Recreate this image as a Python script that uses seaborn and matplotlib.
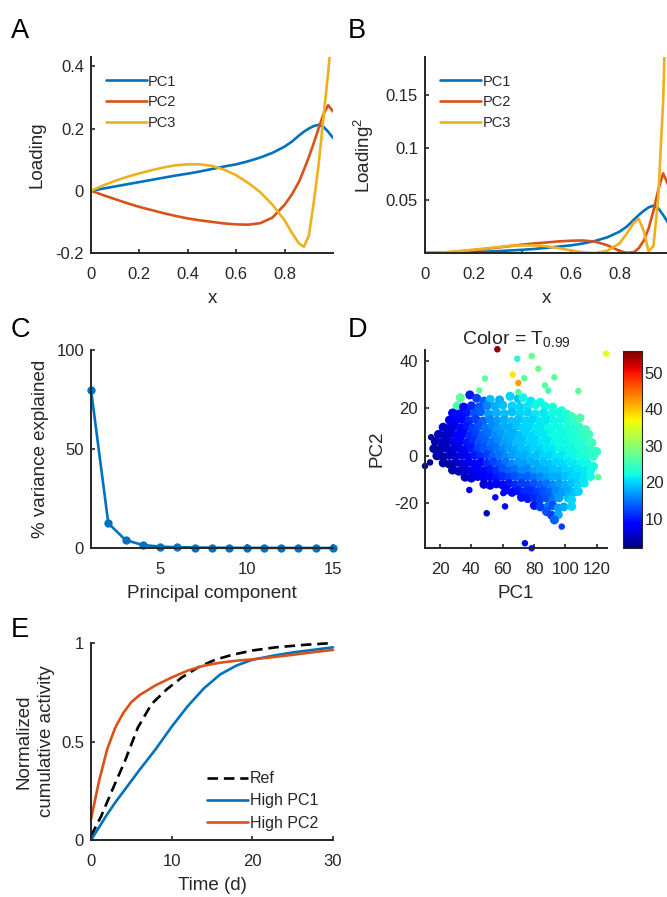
import numpy as np
import pandas as pd
import matplotlib
matplotlib.use("Agg")
import matplotlib.pyplot as plt
import seaborn as sns
from matplotlib.colors import Normalize
from matplotlib.cm import ScalarMappable

# ---------------- data ----------------
xpos = [0, 0.05, 0.1, 0.15, 0.2, 0.25, 0.3, 0.35, 0.4, 0.45, 0.5, 0.55, 0.6, 0.65,
        0.7, 0.75, 0.8, 0.83, 0.86, 0.88, 0.9, 0.92, 0.94, 0.96, 0.98, 1.0]
pc1_load = [0, 0.007, 0.014, 0.021, 0.028, 0.035, 0.042, 0.049, 0.055, 0.062, 0.07, 0.078,
            0.085, 0.095, 0.107, 0.122, 0.142, 0.158, 0.178, 0.19, 0.2, 0.208, 0.212, 0.206,
            0.19, 0.17]
pc2_load = [0, -0.014, -0.027, -0.04, -0.052, -0.062, -0.072, -0.081, -0.089, -0.095, -0.1,
            -0.105, -0.108, -0.109, -0.104, -0.086, -0.045, -0.012, 0.03, 0.068, 0.108, 0.152,
            0.2, 0.245, 0.275, 0.255]
pc3_load = [0, 0.017, 0.032, 0.045, 0.056, 0.066, 0.075, 0.082, 0.085, 0.085, 0.08, 0.068,
            0.05, 0.025, -0.005, -0.045, -0.095, -0.135, -0.17, -0.18, -0.145, -0.04, 0.08,
            0.23, 0.38, 0.55]

pc_index = list(range(1, 16))
var_explained = [80, 12.5, 4, 1.5, 0.7, 0.4, 0.25, 0.15, 0.1, 0.08, 0.06, 0.05, 0.04, 0.03, 0.02]

# Panel D: (PC1, PC2, T0.99) -- dense cloud
cloud_pts = [
    (33, 24.4, 27), (39, 25.6, 10), (43.4, 24.2, 12), (48, 23, 14), (52, 23.7, 19), (58, 23.5, 18),
    (64.7, 25, 20), (70, 24, 19), (73, 24.4, 22), (78, 23, 21), (84, 22.5, 22),
    (31, 21, 26), (35, 20.5, 9), (40, 21, 11), (45, 20.5, 13), (50, 21, 16), (55, 20.8, 18),
    (60, 21.3, 19), (66, 21, 20), (71, 20.5, 20), (76, 21, 21), (81, 21.5, 22), (87, 20.8, 22),
    (92, 20.5, 23), (97.7, 19, 24),
    (28, 18, 8), (32, 17.5, 9), (37, 18.2, 10), (42, 17.8, 13), (46, 18.5, 14), (51, 17.6, 17),
    (56, 18.2, 18), (61, 17.7, 19), (66, 18.4, 19), (71, 17.8, 20), (76, 18.3, 20), (81, 17.6, 21),
    (86, 18, 21), (91, 17.5, 22), (96, 18.2, 22), (101, 17.5, 23), (104, 16.5, 25),
    (26, 15, 7), (29.5, 14.5, 8), (34, 15.3, 9), (38.5, 14.7, 11), (43, 15.2, 12), (47.5, 14.6, 14),
    (52, 15.3, 16), (56.5, 14.8, 17), (61, 15.2, 18), (65.5, 14.5, 19), (70, 15.3, 19),
    (74.5, 14.7, 20), (79, 15.2, 20), (83.5, 14.6, 21), (88, 15.1, 21), (92.5, 14.8, 22),
    (97, 15.3, 22), (101.5, 14.5, 23), (106, 15, 24), (109.3, 15.9, 26),
    (22, 12, 6), (25.5, 11.5, 6), (29, 12.3, 7), (33, 11.7, 9), (37, 12.2, 10), (41, 11.6, 12),
    (45, 12.4, 13), (49, 11.8, 15), (53, 12.3, 16), (57, 11.6, 17), (61, 12.2, 18), (65, 11.7, 18),
    (69, 12.4, 19), (73, 11.8, 20), (77, 12.3, 20), (81, 11.6, 21), (85, 12.2, 21), (89, 11.7, 22),
    (93, 12.3, 22), (97, 11.6, 22), (101, 12.1, 23), (105, 11.5, 23), (109, 12, 24), (113, 11, 25),
    (19, 9, 5), (23, 8.5, 5), (27, 9.2, 6), (31, 8.7, 8), (35, 9.3, 9), (39, 8.6, 11), (43, 9.2, 12),
    (47, 8.8, 14), (51, 9.4, 15), (55, 8.7, 16), (59, 9.2, 17), (63, 8.6, 18), (67, 9.3, 18),
    (71, 8.7, 19), (75, 9.2, 20), (79, 8.6, 20), (83, 9.3, 21), (87, 8.8, 21), (91, 9.2, 22),
    (95, 8.6, 22), (99, 9.1, 22), (103, 8.7, 23), (107, 9.2, 23), (111, 8.6, 24), (115, 9, 25),
    (17, 6, 4), (21, 5.5, 5), (25, 6.2, 5), (29, 5.7, 7), (33, 6.3, 8), (37, 5.6, 10), (41, 6.2, 11),
    (45, 5.8, 13), (49, 6.4, 14), (53, 5.7, 15), (57, 6.2, 16), (61, 5.6, 17), (65, 6.3, 18),
    (69, 5.8, 19), (73, 6.2, 19), (77, 5.6, 20), (81, 6.3, 20), (85, 5.7, 21), (89, 6.2, 21),
    (93, 5.8, 22), (97, 6.3, 22), (101, 5.6, 22), (105, 6.1, 23), (109, 5.7, 23), (113, 6.2, 24),
    (117, 5.5, 25),
    (16, 3, 4), (20, 2.5, 4), (24, 3.2, 5), (28, 2.7, 6), (32, 3.3, 7), (36, 2.6, 9), (40, 3.2, 10),
    (44, 2.8, 12), (48, 3.4, 13), (52, 2.7, 14), (56, 3.2, 15), (60, 2.6, 16), (64, 3.3, 17),
    (68, 2.8, 18), (72, 3.2, 19), (76, 2.6, 19), (80, 3.3, 20), (84, 2.7, 20), (88, 3.2, 21),
    (92, 2.8, 21), (96, 3.3, 22), (100, 2.6, 22), (104, 3.1, 22), (108, 2.7, 23), (112, 3.2, 23),
    (116, 2.6, 24), (120, 1.8, 24),
    (18, 0, 4), (22, -0.5, 4), (26, 0.2, 5), (30, -0.3, 6), (34, 0.3, 7), (38, -0.4, 8),
    (42, 0.2, 10), (46, -0.2, 11), (50, 0.4, 12), (54, -0.3, 14), (58, 0.2, 15), (62, -0.4, 16),
    (66, 0.3, 17), (70, -0.2, 18), (74, 0.2, 18), (78, -0.4, 19), (82, 0.3, 19), (86, -0.3, 20),
    (90, 0.2, 20), (94, -0.4, 21), (98, 0.3, 21), (102, -0.2, 22), (106, 0.2, 22), (110, -0.4, 23),
    (114, 0.3, 23), (118, -0.2, 24),
    (22, -3, 4), (26, -3.5, 4), (30, -2.8, 5), (34, -3.3, 6), (38, -2.7, 7), (42, -3.4, 8),
    (46, -2.8, 9), (50, -3.2, 11), (54, -2.6, 12), (58, -3.3, 13), (62, -2.8, 15), (66, -3.4, 16),
    (70, -2.7, 17), (74, -3.2, 17), (78, -2.6, 18), (82, -3.3, 18), (86, -2.8, 19), (90, -3.4, 19),
    (94, -2.7, 20), (98, -3.2, 20), (102, -2.6, 21), (106, -3.3, 21), (110, -2.8, 22),
    (114, -3.2, 22), (118, -4.5, 23),
    (28, -6, 4), (32, -6.5, 5), (36, -5.8, 6), (40, -6.3, 7), (44, -5.7, 8), (48, -6.4, 9),
    (52, -5.8, 10), (56, -6.2, 11), (60, -5.6, 13), (64, -6.3, 14), (68, -5.7, 15), (72, -6.2, 16),
    (76, -5.6, 16), (80, -6.3, 17), (84, -5.8, 18), (88, -6.2, 18), (92, -5.7, 19), (96, -6.3, 19),
    (100, -5.8, 20), (104, -6.2, 20), (108, -5.7, 21), (112, -6.3, 21), (116, -6, 22),
    (36, -9, 5), (40, -9.4, 6), (44, -8.7, 7), (48, -9.3, 8), (52, -8.8, 9), (56, -9.4, 10),
    (60, -8.7, 11), (64, -9.2, 12), (68, -8.6, 13), (72, -9.3, 14), (76, -8.7, 14), (80, -9.2, 15),
    (84, -8.8, 16), (88, -9.4, 17), (92, -8.7, 18), (96, -9.2, 18), (100, -8.6, 19), (104, -9.3, 20),
    (108, -8.8, 20), (112, -9.2, 21), (116, -8.7, 22),
    (48, -12, 6), (52, -12.4, 7), (56, -11.8, 8), (60, -12.3, 9), (64, -11.7, 10), (68, -12.2, 11),
    (72, -11.6, 12), (76, -12.3, 12), (80, -11.8, 13), (84, -12.2, 14), (88, -11.7, 15),
    (92, -12.3, 16), (96, -11.8, 17), (100, -12.2, 18), (104, -11.6, 19), (108, -12, 20),
    (112, -11.5, 21),
    (62, -14.4, 8), (66, -15.4, 9), (70, -14.8, 10), (74, -15.2, 11), (78, -14.7, 11),
    (82, -15.3, 12), (86, -14.8, 13), (90, -15.2, 14), (94, -14.7, 16), (98, -15.3, 17),
    (102, -14.8, 18), (106, -15.2, 19), (108.3, -15, 20),
    (72, -17.5, 10), (76, -18, 10), (80, -17.6, 11), (84, -18.2, 12), (88, -17.8, 13),
    (92, -18.3, 15), (96, -17.7, 17), (101.9, -17.8, 19), (104, -18.5, 20),
    (80.2, -20.9, 10), (84, -21.5, 12), (89, -21.3, 15), (92, -21, 13), (95.5, -22, 17),
    (99, -21.5, 18), (104, -21.3, 20),
    (88, -23.5, 13), (91.3, -25, 12), (95.5, -24.8, 18), (93, -27, 14),
]
# isolated points
outlier_pts = [
    (56.6, 44.8, 55), (126, 43, 36), (69.3, 40.8, 23), (78.5, 42, 28), (66.4, 34.2, 38),
    (70, 30.6, 42), (82.8, 36.6, 28), (48.7, 32.5, 27), (73.8, 32.6, 27), (93, 33, 27),
    (87, 29.6, 27), (89.2, 27.4, 25), (45.1, 27.5, 27), (108.3, 27.2, 27), (70, 26.8, 26),
    (14.3, 7.8, 4), (10.4, -4.3, 3), (13.6, -2.8, 3), (17.9, 2.9, 4), (22.1, -1.7, 4),
    (27.5, -6.2, 4), (38.7, -14.4, 7), (49.8, -24.2, 5), (55.3, -17.5, 8), (61.5, -21.3, 9),
    (60.4, -15.7, 8), (65.8, -15.5, 9), (74.2, -36.8, 9), (78.5, -38.9, 10), (97.7, -29.8, 12),
    (121, -9, 27), (119, 2.5, 24),
]

t_ref = [0, 1.25, 2.7, 4.2, 5.8, 7.5, 9.4, 11.25, 13.3, 15.4, 17.5, 20, 22.9, 26.25, 30]
ref_act = [0.02, 0.12, 0.26, 0.4, 0.57, 0.69, 0.765, 0.825, 0.877, 0.915, 0.94, 0.962, 0.978, 0.99, 1.0]
t_pc = [0, 1, 2, 3, 4, 5, 6, 8, 10, 12, 14, 16, 18, 20, 22.5, 25, 27.5, 30]
pc1_act = [0, 0.065, 0.13, 0.19, 0.245, 0.3, 0.355, 0.46, 0.575, 0.68, 0.77, 0.84, 0.885,
           0.915, 0.935, 0.952, 0.965, 0.978]
pc2_act = [0.105, 0.3, 0.46, 0.57, 0.645, 0.7, 0.735, 0.785, 0.825, 0.86, 0.885, 0.9, 0.91,
           0.917, 0.928, 0.94, 0.953, 0.965]

# ---------------- style ----------------
sns.set_style("ticks")
plt.rcParams['font.family'] = ['Liberation Sans', 'DejaVu Sans']
plt.rcParams['axes.unicode_minus'] = False
plt.rcParams['mathtext.fontset'] = 'custom'
plt.rcParams['mathtext.rm'] = 'Liberation Sans'
plt.rcParams['mathtext.it'] = 'Liberation Sans'

BLUE = '#0072BD'
RED = '#D95319'
YEL = '#EDB120'
AXC = '#262626'
TICK_FS = 12
LAB_FS = 13.5
LEG_FS = 10.5
LW = 1.9
JET = matplotlib.colormaps['jet']

W, H = 667, 897
fig = plt.figure(figsize=(W / 100, H / 100), dpi=100)


def box(l, t, r, b):
    return [l / W, 1 - b / H, (r - l) / W, (b - t) / H]


def style(ax, xpad=10, ypad=5):
    sns.despine(ax=ax)
    for s in ['left', 'bottom']:
        ax.spines[s].set_color(AXC)
        ax.spines[s].set_linewidth(1.4)
    ax.tick_params(direction='in', length=3, width=1.2, color=AXC, labelcolor=AXC,
                   labelsize=TICK_FS)
    ax.tick_params(axis='x', pad=xpad)
    ax.tick_params(axis='y', pad=ypad)


leg_kw = dict(frameon=False, handletextpad=0.1, labelspacing=0.45, borderaxespad=0)
XLP = 6

# ---- A ----
axA = fig.add_axes(box(91, 57, 333, 253))
sns.lineplot(x=xpos, y=pc1_load, ax=axA, color=BLUE, lw=LW, label='PC1', sort=False)
sns.lineplot(x=xpos, y=pc2_load, ax=axA, color=RED, lw=LW, label='PC2', sort=False)
sns.lineplot(x=xpos, y=pc3_load, ax=axA, color=YEL, lw=LW, label='PC3', sort=False)
axA.set_xlim(0, 1)
axA.set_ylim(-0.2, 0.43)
axA.set_xticks([0, 0.2, 0.4, 0.6, 0.8])
axA.set_xticklabels(['0', '0.2', '0.4', '0.6', '0.8'])
axA.set_yticks([-0.2, 0, 0.2, 0.4])
axA.set_yticklabels(['-0.2', '0', '0.2', '0.4'])
axA.set_xlabel('x', fontsize=LAB_FS, color=AXC, labelpad=XLP)
axA.set_ylabel('Loading', fontsize=LAB_FS, color=AXC)
axA.yaxis.set_label_coords(-0.19, 0.5)
style(axA)
axA.legend(loc='upper left', bbox_to_anchor=(0.037, 0.94), fontsize=LEG_FS,
           handlelength=2.8, **leg_kw)

# ---- B ----
axB = fig.add_axes(box(425, 57, 668, 253))
sns.lineplot(x=xpos, y=np.square(pc1_load), ax=axB, color=BLUE, lw=LW, label='PC1', sort=False)
sns.lineplot(x=xpos, y=np.square(pc2_load), ax=axB, color=RED, lw=LW, label='PC2', sort=False)
sns.lineplot(x=xpos, y=np.square(pc3_load), ax=axB, color=YEL, lw=LW, label='PC3', sort=False)
axB.set_xlim(0, 1)
axB.set_ylim(0, 0.186)
axB.set_xticks([0, 0.2, 0.4, 0.6, 0.8])
axB.set_xticklabels(['0', '0.2', '0.4', '0.6', '0.8'])
axB.set_yticks([0.05, 0.1, 0.15])
axB.set_yticklabels(['0.05', '0.1', '0.15'])
axB.set_xlabel('x', fontsize=LAB_FS, color=AXC, labelpad=XLP)
axB.set_ylabel('Loading$^2$', fontsize=LAB_FS, color=AXC)
axB.yaxis.set_label_coords(-0.2, 0.5)
style(axB)
axB.legend(loc='upper left', bbox_to_anchor=(0.038, 0.94), fontsize=LEG_FS,
           handlelength=2.8, **leg_kw)

# ---- C ----
axC = fig.add_axes(box(91, 350, 333, 548))
sns.lineplot(x=pc_index, y=var_explained, ax=axC, color=BLUE, lw=LW, marker='o',
             markersize=6, markeredgewidth=0, markerfacecolor=BLUE)
axC.set_xlim(1, 15)
axC.set_ylim(0, 100)
axC.set_xticks([5, 10, 15])
axC.set_yticks([0, 50, 100])
axC.set_xlabel('Principal component', fontsize=LAB_FS, color=AXC, labelpad=XLP)
axC.set_ylabel('% variance explained', fontsize=LAB_FS, color=AXC)
axC.yaxis.set_label_coords(-0.175, 0.5)
style(axC)
for ln in axC.lines:
    ln.set_clip_on(False)

# ---- D ----
axD = fig.add_axes(box(425, 350, 607, 548))
df_cloud = pd.DataFrame(cloud_pts, columns=['PC1', 'PC2', 'T'])
df_out = pd.DataFrame(outlier_pts, columns=['PC1', 'PC2', 'T'])
sns.scatterplot(data=df_cloud, x='PC1', y='PC2', hue='T', palette=JET, hue_norm=(2, 56),
                legend=False, s=42, linewidth=0, ax=axD)
sns.scatterplot(data=df_out, x='PC1', y='PC2', hue='T', palette=JET, hue_norm=(2, 56),
                legend=False, s=22, linewidth=0, ax=axD)
for c in axD.collections:
    c.set_clip_on(False)
axD.set_xlim(10.4, 126.6)
axD.set_ylim(-38.8, 44.5)
axD.set_xticks([20, 40, 60, 80, 100, 120])
axD.set_yticks([-20, 0, 20, 40])
axD.set_xlabel('PC1', fontsize=LAB_FS, color=AXC, labelpad=XLP)
axD.set_ylabel('PC2', fontsize=LAB_FS, color=AXC)
axD.yaxis.set_label_coords(-0.215, 0.5)
axD.set_title('Color = T$_{0.99}$', fontsize=14, color=AXC, pad=4)
style(axD)

cax = fig.add_axes(box(623, 351, 642, 548))
sm = ScalarMappable(norm=Normalize(2, 56), cmap=JET)
cb = fig.colorbar(sm, cax=cax)
cb.set_ticks([10, 20, 30, 40, 50])
cb.outline.set_linewidth(0.8)
cb.outline.set_edgecolor(AXC)
cax.tick_params(direction='in', length=3, width=0.8, color=AXC, labelcolor=AXC,
                labelsize=TICK_FS, pad=2)

# ---- E ----
axE = fig.add_axes(box(91, 643, 333, 840))
sns.lineplot(x=t_ref, y=ref_act, ax=axE, color='black', lw=LW, linestyle=(0, (4, 2.2)),
             label='Ref', sort=False)
sns.lineplot(x=t_pc, y=pc1_act, ax=axE, color=BLUE, lw=LW, label='High PC1', sort=False)
sns.lineplot(x=t_pc, y=pc2_act, ax=axE, color=RED, lw=LW, label='High PC2', sort=False)
axE.set_xlim(0, 30)
axE.set_ylim(0, 1.0)
axE.set_xticks([0, 10, 20, 30])
axE.set_yticks([0, 0.5, 1])
axE.set_yticklabels(['0', '0.5', '1'])
axE.set_xlabel('Time (d)', fontsize=LAB_FS, color=AXC, labelpad=XLP)
axE.set_ylabel('Normalized\ncumulative activity', fontsize=LAB_FS, color=AXC, linespacing=1.4)
axE.yaxis.set_label_coords(-0.15, 0.5)
style(axE)
for ln in axE.lines:
    ln.set_clip_on(False)
axE.legend(loc='lower right', bbox_to_anchor=(0.965, 0.015), fontsize=11.5,
           handlelength=2.6, **leg_kw)

# panel letters
for lab, (px, py) in {'A': (11, 38), 'B': (348, 38), 'C': (11, 337), 'D': (348, 337),
                      'E': (11, 637)}.items():
    fig.text(px / W, 1 - py / H, lab, fontsize=19.5, color='black', ha='left', va='baseline')

fig.savefig('out.png', dpi=100)
